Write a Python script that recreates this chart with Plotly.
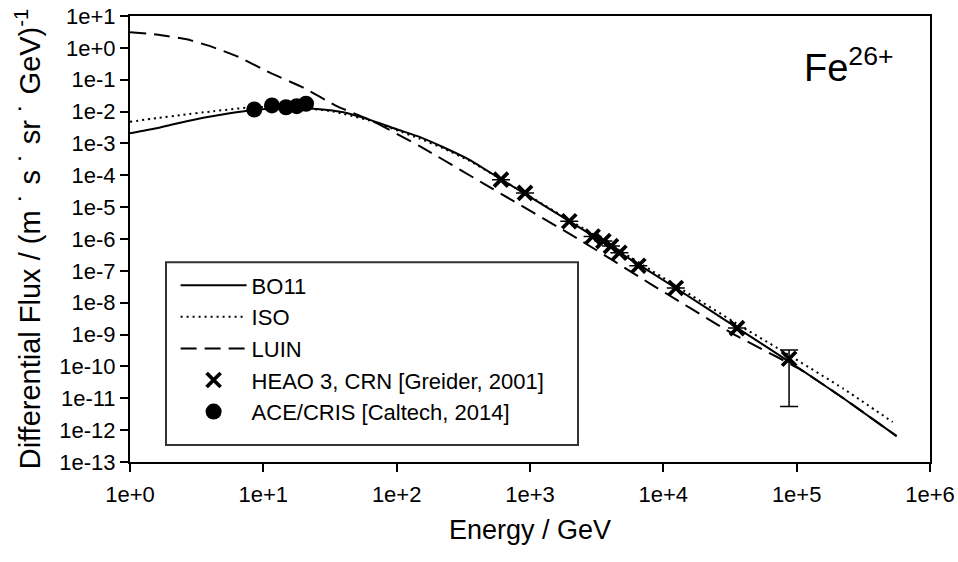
import plotly.graph_objects as go

# Model spectra for Fe26+ (energy in GeV, flux in (m^2 s sr GeV)^-1)
bo11_energy = [1.0, 1.58, 2.0, 3.55, 5.6, 8.3, 12.6, 19.9, 25.1, 39.8, 63.1, 100, 150, 224, 355, 603, 1000, 2000, 4680, 12300, 35500, 87100, 224000, 562000]
bo11_flux = [2.1e-3, 3.0e-3, 3.8e-3, 6.4e-3, 8.9e-3, 1.10e-2, 1.24e-2, 1.26e-2, 1.20e-2, 9.5e-3, 5.5e-3, 2.8e-3, 1.58e-3, 7.6e-4, 3.0e-4, 7.6e-5, 2.1e-5, 3.5e-6, 3.8e-7, 2.95e-8, 1.66e-9, 1.45e-10, 1.0e-11, 6.5e-13]

iso_energy = [1.0, 1.58, 2.5, 4.0, 8.3, 15.8, 31.6, 63.1, 100, 150, 224, 355, 603, 2000, 4680, 12300, 35500, 87100, 224000, 525000]
iso_flux = [4.8e-3, 6.2e-3, 7.9e-3, 1.0e-2, 1.38e-2, 1.38e-2, 1.05e-2, 5.2e-3, 2.6e-3, 1.4e-3, 7.0e-4, 2.8e-4, 7.6e-5, 3.8e-6, 4.4e-7, 3.5e-8, 2.2e-9, 2.3e-10, 2.0e-11, 1.8e-12]

luin_energy = [1.0, 1.58, 2.66, 3.98, 6.3, 11.2, 20.0, 35.5, 63.1, 150, 452, 2370, 7940, 33100, 107000, 224000, 562000]
luin_flux = [3.1, 2.63, 1.86, 1.13, 0.55, 0.166, 5.6e-2, 1.48e-2, 5.5e-3, 8.1e-4, 5.4e-5, 9.3e-7, 4.0e-8, 1.07e-9, 8.0e-11, 1.0e-11, 6.5e-13]

# HEAO 3 / CRN measurements
heao_energy = [606, 918, 1970, 2950, 3550, 4050, 4680, 6490, 12400, 35700, 87700]
heao_flux = [7.3e-5, 2.8e-5, 3.6e-6, 1.2e-6, 8.6e-7, 6.0e-7, 3.7e-7, 1.45e-7, 2.9e-8, 1.6e-9, 1.74e-10]
heao_err_plus = [None, None, None, None, None, None, None, None, None, None, 1.56e-10]
heao_err_minus = [None, None, None, None, None, None, None, None, None, None, 1.685e-10]

# ACE/CRIS measurements
ace_energy = [8.55, 11.6, 14.8, 17.8, 20.9]
ace_flux = [1.16e-2, 1.56e-2, 1.37e-2, 1.48e-2, 1.76e-2]

x_tick_vals = [1, 10, 100, 1e3, 1e4, 1e5, 1e6]
x_tick_text = ["1e+0", "1e+1", "1e+2", "1e+3", "1e+4", "1e+5", "1e+6"]
y_tick_vals = [10.0 ** k for k in range(1, -14, -1)]
y_tick_text = ["1e+1", "1e+0"] + ["1e-%d" % k for k in range(1, 14)]

FONT = "Liberation Sans, Arial, sans-serif"

fig = go.Figure()

curve_line = dict(color="black", width=2, shape="spline", smoothing=0.4)
fig.add_trace(go.Scatter(x=bo11_energy, y=bo11_flux, mode="lines", name="BO11",
                         line=curve_line))
fig.add_trace(go.Scatter(x=iso_energy, y=iso_flux, mode="lines", name="ISO",
                         line=dict(curve_line, dash="2px,4px")))
fig.add_trace(go.Scatter(x=luin_energy, y=luin_flux, mode="lines", name="LUIN",
                         line=dict(curve_line, dash="16px,8px")))
fig.add_trace(go.Scatter(
    x=heao_energy, y=heao_flux, mode="markers", name="HEAO 3, CRN [Greider, 2001]",
    marker=dict(symbol="x-thin", size=14, color="black", line=dict(width=3.8, color="black")),
    error_y=dict(type="data", symmetric=False, array=heao_err_plus, arrayminus=heao_err_minus,
                 color="black", thickness=1.5, width=9),
))
fig.add_trace(go.Scatter(
    x=ace_energy, y=ace_flux, mode="markers", name="ACE/CRIS [Caltech, 2014]",
    marker=dict(symbol="circle", size=16, color="black"),
))

axis_common = dict(
    showgrid=False, zeroline=False, showline=True, linecolor="black", linewidth=2,
    mirror=True, ticks="outside", ticklen=8, tickwidth=2, tickcolor="black",
    automargin=False,
    tickfont=dict(family=FONT, size=22, color="black"),
)

fig.update_xaxes(type="log", range=[0, 6], tickvals=x_tick_vals, ticktext=x_tick_text,
                 ticklabelstandoff=4,
                 title=dict(text="Energy / GeV", font=dict(family=FONT, size=27, color="black"), standoff=14),
                 **axis_common)
fig.update_yaxes(type="log", range=[-13, 1], tickvals=y_tick_vals, ticktext=y_tick_text,
                 title=dict(text="Differential Flux / (m ˙ s ˙ sr ˙ GeV)<sup>-1</sup>",
                            font=dict(family=FONT, size=29, color="black"), standoff=10),
                 **axis_common)

fig.add_annotation(x=0.84, y=0.89, xref="paper", yref="paper", xanchor="left", yanchor="middle",
                   text="Fe<sup>26+</sup>", showarrow=False,
                   font=dict(family=FONT, size=38, color="black"))

# frame around the legend block
fig.add_shape(type="rect", xref="paper", yref="paper",
              x0=0.045, x1=0.56, y0=0.038, y1=0.448,
              line=dict(color="#333333", width=2), fillcolor="rgba(0,0,0,0)", layer="above")

fig.update_layout(
    width=958, height=562,
    margin=dict(l=130, r=28, t=16, b=100),
    paper_bgcolor="white", plot_bgcolor="white",
    showlegend=True,
    legend=dict(x=0.057, y=0.443, xanchor="left", yanchor="top",
                bgcolor="rgba(0,0,0,0)", borderwidth=0,
                font=dict(family=FONT, size=22, color="black"),
                itemwidth=66, tracegroupgap=0),
)

fig.write_html("out.html")
